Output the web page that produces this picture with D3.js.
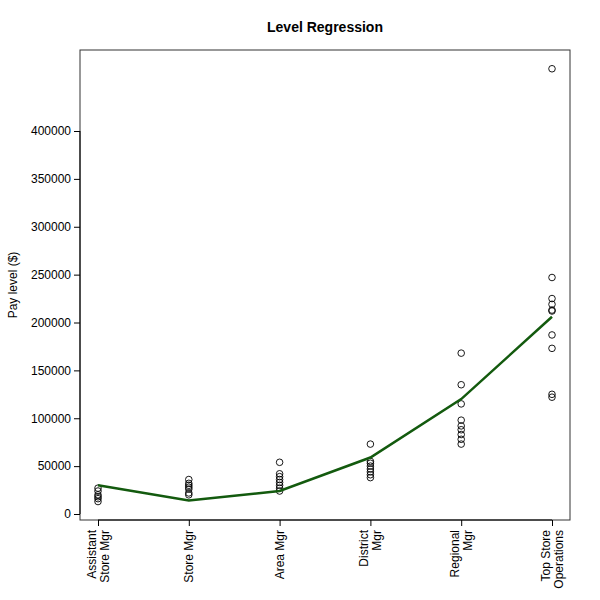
<!DOCTYPE html>
<html><head><meta charset="utf-8">
<script src="https://cdn.jsdelivr.net/npm/d3@7"></script>
<style>body{margin:0;background:#fff}text{font-family:"Liberation Sans",Arial,sans-serif}</style>
</head><body><svg id="c" width="600" height="600"></svg>
<script>
const categories = [["Assistant", "Store Mgr"], ["Store Mgr"], ["Area Mgr"], ["District", "Mgr"], ["Regional", "Mgr"], ["Top Store", "Operations"]];
const points = [
  [27000, 24000, 20000, 18000, 16000, 13000],
  [36000, 32000, 30000, 28000, 26000, 22000, 20000],
  [54000, 42000, 39000, 36000, 33000, 30000, 27000, 24000],
  [73000, 55000, 53000, 50000, 47000, 44000, 41000, 38000],
  [168000, 135000, 115000, 98000, 92000, 88000, 83000, 78000, 73000],
  [465000, 247000, 225000, 219000, 213000, 212000, 187000, 173000, 125000, 122000]
];
const fitted = [30000, 14000, 24000, 59000, 120000, 206000];
const yTicks = [0, 50000, 100000, 150000, 200000, 250000, 300000, 350000, 400000];

const svg = d3.select("#c");
const x = d3.scaleLinear().domain([0, 5]).range([98, 552]);
const y = d3.scaleLinear().domain([0, 400000]).range([514, 131]);

svg.append("rect").attr("x", 80).attr("y", 50).attr("width", 490).attr("height", 470)
  .attr("fill", "none").attr("stroke", "#333");

const ya = svg.append("g").attr("transform", "translate(80,0)")
  .call(d3.axisLeft(y).tickValues(yTicks).tickFormat(d3.format("d")).tickSize(6).tickSizeOuter(0));
ya.select(".domain").attr("d", "M0," + y(0) + "V" + y(400000));
ya.selectAll("text").attr("font-size", 12).attr("fill", "#000");

const xa = svg.append("g").attr("transform", "translate(0,520)")
  .call(d3.axisBottom(x).ticks(6).tickFormat("").tickSize(6).tickSizeOuter(0));
xa.select(".domain").attr("d", "M" + x(0) + ",0H" + x(5));

categories.forEach((c, i) => {
  const t = svg.append("text").attr("font-size", 12)
    .attr("transform", `translate(${x(i)},530) rotate(-90)`).attr("text-anchor", "end");
  c.forEach((l, j) => t.append("tspan").attr("x", 0)
    .attr("y", (j - (c.length - 1) / 2) * 13 + 4).text(l));
});

points.forEach((ps, i) => ps.forEach(v => svg.append("circle")
  .attr("cx", x(i)).attr("cy", y(v)).attr("r", 3.3)
  .attr("fill", "none").attr("stroke", "#000").attr("stroke-width", 0.9)));

svg.append("path").datum(fitted)
  .attr("d", d3.line().x((d, i) => x(i)).y(d => y(d)))
  .attr("fill", "none").attr("stroke", "#135a0e").attr("stroke-width", 2.5);

svg.append("text").attr("x", 325).attr("y", 32).attr("text-anchor", "middle")
  .attr("font-size", 14).attr("font-weight", "bold").text("Level Regression");
svg.append("text").attr("transform", "translate(17,285) rotate(-90)").attr("text-anchor", "middle")
  .attr("font-size", 12).text("Pay level ($)");
</script></body></html>
